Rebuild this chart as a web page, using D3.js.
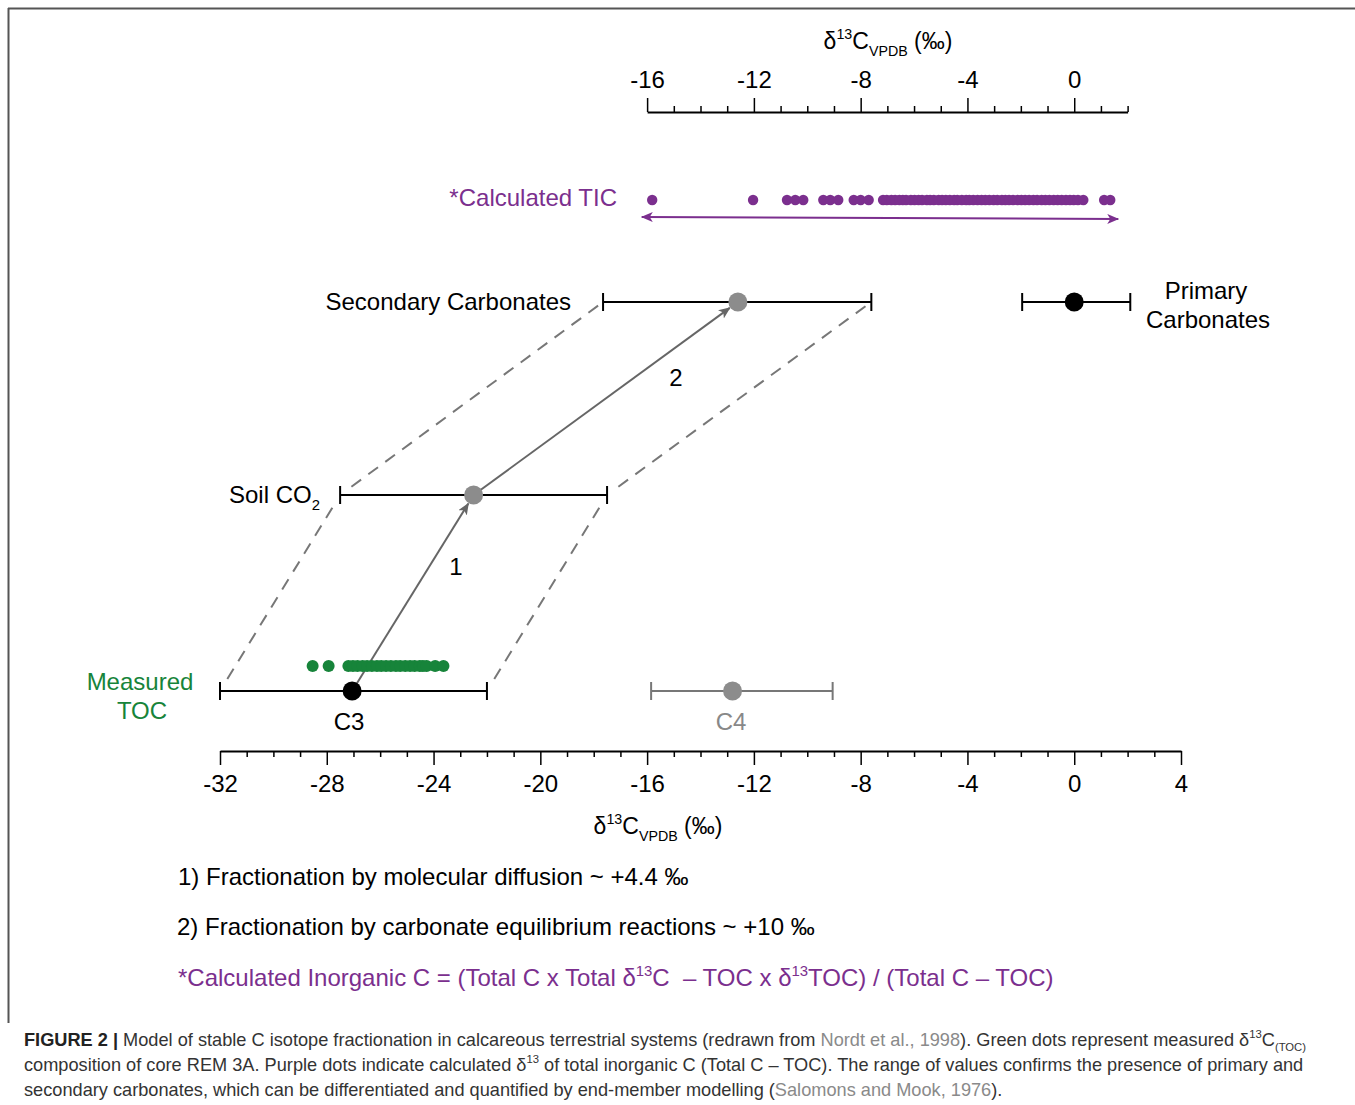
<!DOCTYPE html>
<html>
<head>
<meta charset="utf-8">
<script src="https://cdn.jsdelivr.net/npm/d3@7"></script>
<style>
  body { margin: 0; background: #fff; }
  svg text { font-family: "Liberation Sans", Arial, sans-serif; }
</style>
</head>
<body>
<div id="chart"></div>
<script>
// end members: name, range low/high, mean (per mil)
const barNames = ["C3", "C4", "Soil CO2", "Secondary Carbonates", "Primary Carbonates"];
const barLow = [-32, -15.85, -27.5, -17.65, -1.95];
const barHigh = [-22, -9.05, -17.5, -7.6, 2.1];
const barMean = [-27.05, -12.8, -22.5, -12.6, 0];

// calculated TIC (purple) and measured TOC (green)
const ticValues = [-15.81, -12.03, -10.76, -10.45, -10.15, -9.40, -9.14, -8.84, -8.26, -8.0, -7.7,
  -7.16, -7.02, -6.85, -6.71, -6.55, -6.42, -6.30, -6.12, -5.98, -5.83, -5.70, -5.52, -5.40,
  -5.26, -5.08, -4.95, -4.81, -4.66, -4.50, -4.38, -4.21, -4.05, -3.93, -3.78, -3.62, -3.47,
  -3.33, -3.18, -3.02, -2.88, -2.71, -2.58, -2.44, -2.29, -2.12, -1.98, -1.84, -1.69, -1.53,
  -1.39, -1.22, -1.08, -0.93, -0.77, -0.62, -0.47, -0.31, -0.16, -0.02, 0.14, 0.34, 1.12, 1.35];
const tocValues = [-28.53, -27.93, -27.19, -27.02, -26.85, -26.66, -26.49, -26.31, -26.12, -25.96,
  -25.78, -25.60, -25.41, -25.25, -25.06, -24.88, -24.71, -24.52, -24.40, -24.26, -23.94, -23.63];
const ticRange = [-16.2, 1.65];

// fractionation steps: from -> to
const steps = [["C3", "Soil CO2", "1"], ["Soil CO2", "Secondary Carbonates", "2"]];

const bottomTicks = d3.range(-32, 5);
const topTicks = d3.range(-16, 3);

const W = 1355, H = 1105;
const purple = "#7b2f8e", green = "#17843a", grey = "#8c8c8c";
const FS = 24;

const svg = d3.select("#chart").append("svg")
  .attr("width", W).attr("height", H);

// frame
svg.append("line").attr("x1", 8).attr("x2", W).attr("y1", 8.5).attr("y2", 8.5)
  .attr("stroke", "#555").attr("stroke-width", 2);
svg.append("line").attr("x1", 8.5).attr("x2", 8.5).attr("y1", 8).attr("y2", 1023)
  .attr("stroke", "#555").attr("stroke-width", 2);

const x = d3.scaleLinear().domain([-32, 4]).range([220, 1181]);
const rowY = d3.scaleOrdinal()
  .domain(["TIC", "Secondary Carbonates", "Primary Carbonates", "Soil CO2", "TOC", "C3", "C4"])
  .range([200, 302, 302, 495, 666, 691, 691]);

// text with super/subscripts
function rich(g, px, py, parts, size, opts) {
  opts = opts || {};
  let t = g.append("text").attr("x", px).attr("y", py)
    .attr("font-size", size).attr("fill", opts.fill || "#000")
    .attr("text-anchor", opts.anchor || "start");
  let off = 0;
  parts.forEach(p => {
    let s = typeof p === "string" ? [p] : p;
    let kind = s[1] || "";
    let target = kind === "sup" ? -0.42 * size : kind === "sub" ? 0.3 * size : 0;
    let ts = t.append("tspan").text(s[0]).attr("dy", target - off);
    if (kind) ts.attr("font-size", size * 0.62);
    if (s[2]) ts.attr("fill", s[2]);
    if (s[3]) ts.attr("font-weight", s[3]);
    off = target;
  });
  return t;
}

function styleAxis(g) {
  g.select(".domain").attr("stroke", "#000").attr("stroke-width", 2);
  g.selectAll(".tick line").attr("stroke", "#000").attr("stroke-width", 1.5);
  g.selectAll(".tick text").attr("font-size", FS).attr("fill", "#000")
    .attr("font-family", "'Liberation Sans', Arial, sans-serif");
}

// bottom axis
const bottomAxis = d3.axisBottom(x).tickValues(bottomTicks).tickSize(14).tickSizeOuter(0)
  .tickPadding(10).tickFormat(d => d % 4 === 0 ? String(d) : "");
const gb = svg.append("g").attr("transform", "translate(0,751)").call(bottomAxis);
styleAxis(gb);
gb.selectAll(".tick").filter(d => d % 4 !== 0).select("line").attr("y2", 6);

// top axis
const xt = x.copy().domain([-16, 2]).range([x(-16), x(2)]);
const topAxis = d3.axisTop(xt).tickValues(topTicks).tickSize(14).tickSizeOuter(0)
  .tickPadding(10).tickFormat(d => d % 4 === 0 ? String(d) : "");
const gt = svg.append("g").attr("transform", "translate(0,112)").call(topAxis);
styleAxis(gt);
gt.selectAll(".tick").filter(d => d % 4 !== 0).select("line").attr("y2", -6);

// axis titles
rich(svg, 888, 49, [["δ"], ["13", "sup"], ["C"], ["VPDB", "sub"], [" (‰)"]], 23, {anchor: "middle"});
rich(svg, 658, 834, [["δ"], ["13", "sup"], ["C"], ["VPDB", "sub"], [" (‰)"]], 23, {anchor: "middle"});

// dashed envelope
const idx = n => barNames.indexOf(n);
const chain = ["C3", "Soil CO2", "Secondary Carbonates"];
[barLow, barHigh].forEach(arr => {
  for (let i = 0; i < chain.length - 1; i++) {
    let a = [x(arr[idx(chain[i])]), rowY(chain[i])];
    let b = [x(arr[idx(chain[i + 1])]), rowY(chain[i + 1])];
    let dx = b[0] - a[0], dy = b[1] - a[1], len = Math.hypot(dx, dy);
    let ux = dx / len, uy = dy / len;
    svg.append("line")
      .attr("x1", a[0] + ux * 14).attr("y1", a[1] + uy * 14)
      .attr("x2", b[0] - ux * 6).attr("y2", b[1] - uy * 6)
      .attr("stroke", "#777").attr("stroke-width", 2)
      .attr("stroke-dasharray", "12,9");
  }
});

// arrow markers
const defs = svg.append("defs");
function marker(id, color, orient) {
  defs.append("marker").attr("id", id)
    .attr("viewBox", "0 0 12 10").attr("refX", 11).attr("refY", 5)
    .attr("markerWidth", 12).attr("markerHeight", 10)
    .attr("markerUnits", "userSpaceOnUse").attr("orient", orient)
    .append("path").attr("d", "M0,0 L12,5 L0,10 L3,5 Z").attr("fill", color);
}
marker("arrGrey", "#666", "auto");
marker("arrPurple", purple, "auto-start-reverse");

// fractionation arrows
steps.forEach(s => {
  let a = [x(barMean[idx(s[0])]), rowY(s[0])];
  let b = [x(barMean[idx(s[1])]), rowY(s[1])];
  let dx = b[0] - a[0], dy = b[1] - a[1], len = Math.hypot(dx, dy);
  let ux = dx / len, uy = dy / len;
  svg.append("line")
    .attr("x1", a[0]).attr("y1", a[1])
    .attr("x2", b[0] - ux * 10).attr("y2", b[1] - uy * 10)
    .attr("stroke", "#666").attr("stroke-width", 2)
    .attr("marker-end", "url(#arrGrey)");
});
svg.append("text").attr("x", 456).attr("y", 575).attr("font-size", FS)
  .attr("text-anchor", "middle").text(steps[0][2]);
svg.append("text").attr("x", 676).attr("y", 386).attr("font-size", FS)
  .attr("text-anchor", "middle").text(steps[1][2]);

// TOC dots
svg.append("g").selectAll("circle").data(tocValues).join("circle")
  .attr("cx", d => x(d)).attr("cy", rowY("TOC")).attr("r", 6).attr("fill", green);

// error bars
barNames.forEach((n, i) => {
  let col = n === "C4" ? "#777" : "#000";
  let y = rowY(n);
  let g = svg.append("g");
  g.append("line").attr("x1", x(barLow[i])).attr("x2", x(barHigh[i]))
    .attr("y1", y).attr("y2", y).attr("stroke", col).attr("stroke-width", 2);
  [barLow[i], barHigh[i]].forEach(v => {
    g.append("line").attr("x1", x(v)).attr("x2", x(v))
      .attr("y1", y - 9).attr("y2", y + 9).attr("stroke", col).attr("stroke-width", 2);
  });
  let fill = (n === "C3" || n === "Primary Carbonates") ? "#000" : grey;
  g.append("circle").attr("cx", x(barMean[i])).attr("cy", y).attr("r", 9.5).attr("fill", fill);
});

// TIC dots and range arrow
svg.append("g").selectAll("circle").data(ticValues).join("circle")
  .attr("cx", d => x(d)).attr("cy", rowY("TIC")).attr("r", 5.2).attr("fill", purple);
svg.append("line").attr("x1", x(ticRange[0])).attr("x2", x(ticRange[1]))
  .attr("y1", 217).attr("y2", 219)
  .attr("stroke", purple).attr("stroke-width", 2)
  .attr("marker-start", "url(#arrPurple)").attr("marker-end", "url(#arrPurple)");

// labels
svg.append("text").attr("x", 617).attr("y", 206).attr("font-size", FS)
  .attr("text-anchor", "end").attr("fill", purple).text("*Calculated TIC");
svg.append("text").attr("x", 571).attr("y", 310).attr("font-size", FS)
  .attr("text-anchor", "end").text("Secondary Carbonates");
svg.append("text").attr("x", 1206).attr("y", 299).attr("font-size", FS)
  .attr("text-anchor", "middle").text("Primary");
svg.append("text").attr("x", 1208).attr("y", 328).attr("font-size", FS)
  .attr("text-anchor", "middle").text("Carbonates");
rich(svg, 229, 503, [["Soil CO"], ["2", "sub"]], FS);
svg.append("text").attr("x", 140).attr("y", 690).attr("font-size", FS)
  .attr("text-anchor", "middle").attr("fill", green).text("Measured");
svg.append("text").attr("x", 142).attr("y", 719).attr("font-size", FS)
  .attr("text-anchor", "middle").attr("fill", green).text("TOC");
svg.append("text").attr("x", 349).attr("y", 730).attr("font-size", FS)
  .attr("text-anchor", "middle").text("C3");
svg.append("text").attr("x", 731).attr("y", 730).attr("font-size", FS)
  .attr("text-anchor", "middle").attr("fill", "#888").text("C4");

// notes
svg.append("text").attr("x", 178).attr("y", 885).attr("font-size", FS)
  .text("1) Fractionation by molecular diffusion ~ +4.4 ‰");
svg.append("text").attr("x", 177).attr("y", 935).attr("font-size", FS)
  .text("2) Fractionation by carbonate equilibrium reactions ~ +10 ‰");
rich(svg, 178, 986, [["*Calculated Inorganic C = (Total C x Total δ"], ["13", "sup"], ["C  – TOC x δ"],
  ["13", "sup"], ["TOC) / (Total C – TOC)"]], 24, {fill: purple}).style("white-space", "pre");

// caption
const CS = 18.2;
const cap = svg.append("g").attr("fill", "#333");
rich(cap, 24, 1046, [["FIGURE 2 | ", "", "#222", "bold"],
  ["Model of stable C isotope fractionation in calcareous terrestrial systems (redrawn from "],
  ["Nordt et al., 1998", "", "#8a8a8a"], ["). Green dots represent measured δ"], ["13", "sup"],
  ["C"], ["(TOC)", "sub"]], CS, {fill: "#333"});
rich(cap, 24, 1071, [["composition of core REM 3A. Purple dots indicate calculated δ"], ["13", "sup"],
  [" of total inorganic C (Total C – TOC). The range of values confirms the presence of primary and"]],
  CS, {fill: "#333"});
rich(cap, 24, 1096, [["secondary carbonates, which can be differentiated and quantified by end-member modelling ("],
  ["Salomons and Mook, 1976", "", "#8a8a8a"], [")."]], CS, {fill: "#333"});
</script>
</body>
</html>
